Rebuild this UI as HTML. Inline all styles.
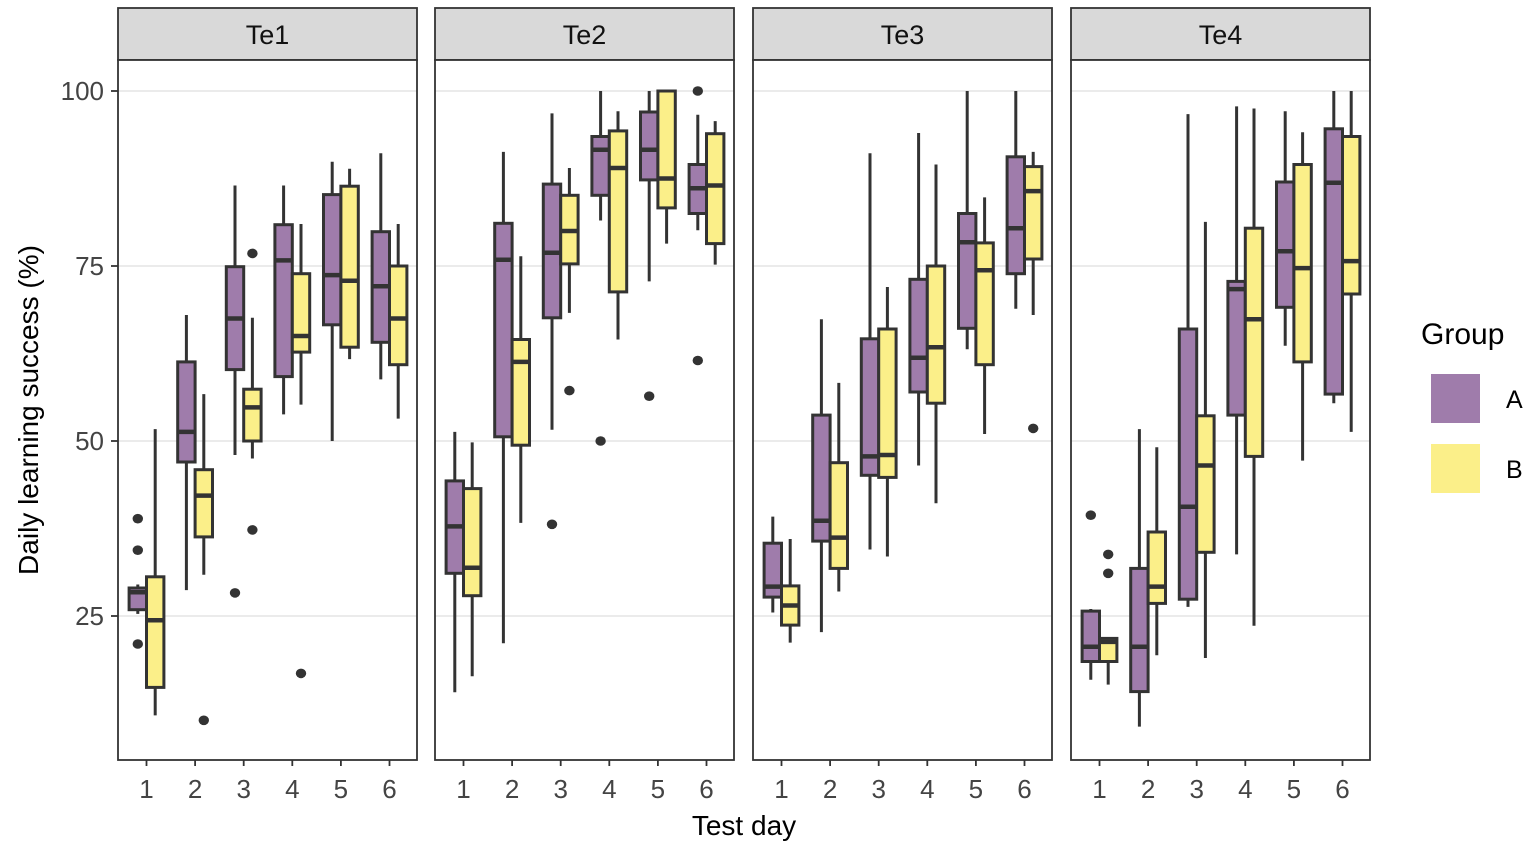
<!DOCTYPE html>
<html><head><meta charset="utf-8"><style>
body{margin:0;background:#fff}
svg text{font-family:"Liberation Sans",Arial,sans-serif}
</style></head><body>
<svg id="chart" width="1535" height="851" xmlns="http://www.w3.org/2000/svg"></svg>
<script>
const panels=["Te1","Te2","Te3","Te4"];
const days=[1,2,3,4,5,6];
const yTicks=[25,50,75,100];
// each box: [lowWhisker, q1, median, q3, highWhisker]
const groupA=[
 [[25.3,25.9,28.4,29.0,29.5],[28.7,47.0,51.3,61.3,68.0],[48.0,60.2,67.5,74.9,86.5],[53.8,59.2,75.8,80.9,86.5],[50.0,66.6,73.7,85.2,89.9],[58.8,64.1,72.1,79.9,91.1]],
 [[14.1,31.1,37.8,44.3,51.3],[21.1,50.6,75.9,81.1,91.3],[51.6,67.6,76.9,86.7,96.8],[81.5,85.1,91.6,93.5,100],[72.8,87.3,91.6,97.0,100],[80.1,82.5,86.1,89.5,96.6]],
 [[25.5,27.7,29.2,35.4,39.2],[22.7,35.7,38.6,53.7,67.4],[34.5,45.1,47.8,64.6,91.1],[46.5,57.0,61.9,73.1,94.0],[63.1,66.1,78.4,82.5,100],[68.9,73.9,80.4,90.6,100]],
 [[15.9,18.5,20.6,25.7,26.0],[9.2,14.2,20.6,31.8,51.7],[26.3,27.4,40.6,66.0,96.7],[33.8,53.7,71.7,72.8,97.8],[63.6,69.1,77.1,87.0,97.1],[55.4,56.7,86.9,94.6,100]]
];
const groupB=[
 [[10.8,14.8,24.4,30.6,51.7],[30.9,36.3,42.2,45.9,56.7],[47.5,50.0,54.8,57.4,67.6],[55.2,62.7,65.0,73.9,81.0],[61.7,63.4,72.9,86.4,88.9],[53.2,60.9,67.5,75.0,81.0]],
 [[16.4,27.9,31.9,43.2,49.8],[38.3,49.4,61.3,64.5,76.4],[68.3,75.3,80.0,85.1,89.0],[64.5,71.3,89.0,94.3,97.1],[78.2,83.3,87.5,100,100],[75.2,78.2,86.5,93.9,95.7]],
 [[21.2,23.7,26.5,29.3,36.0],[28.5,31.8,36.2,46.9,58.3],[33.5,44.8,48.0,66.0,72.0],[41.1,55.4,63.4,75.0,89.5],[51.0,60.9,74.4,78.3,84.8],[68.0,76.0,85.7,89.2,91.3]],
 [[15.2,18.5,21.3,21.8,21.8],[19.4,26.8,29.2,37.0,49.1],[19.0,34.1,46.5,53.6,81.3],[23.6,47.8,67.4,80.4,97.5],[47.2,61.3,74.7,89.5,94.1],[51.3,71.0,75.7,93.5,100]]
];
// outliers: [panelIndex, dayIndex, group(0=A,1=B), value]
const outliers=[
 [0,0,0,38.9],[0,0,0,34.4],[0,0,0,21.0],[0,1,1,10.1],[0,2,0,28.3],[0,2,1,76.8],[0,2,1,37.3],[0,3,1,16.8],
 [1,2,0,38.1],[1,2,1,57.2],[1,3,0,50.0],[1,4,0,56.4],[1,5,0,100],[1,5,0,61.5],
 [2,5,1,51.8],
 [3,0,0,39.4],[3,0,1,33.8],[3,0,1,31.1]
];
const colors=["#9f7cab","#fbef89"];
const NS="http://www.w3.org/2000/svg";
const svg=document.getElementById("chart");
function el(tag,attrs,parent){const e=document.createElementNS(NS,tag);for(const k in attrs)e.setAttribute(k,attrs[k]);(parent||svg).appendChild(e);return e;}
const panelLeft=[118,435,753,1071], panelW=299, plotTop=60, plotBottom=760;
function y(v){return 791-7*v;}
function x(p,d){return panelLeft[p]+28.5+(d-1)*48.6;}
const dodge=8.7, bw=17.4;
panels.forEach((name,p)=>{
  const g=el("g",{});
  
  
  const L=panelLeft[p];
  const strip=el("rect",{x:L,y:8,width:panelW,height:52,fill:"#d9d9d9",stroke:"#333","stroke-width":1.8},g);
  
  
  const st=el("text",{x:L+panelW/2,y:44,"text-anchor":"middle","font-size":27,fill:"#111"},g);
  st.textContent=name;
  
  
  el("rect",{x:L,y:plotTop,width:panelW,height:plotBottom-plotTop,fill:"#fff"},g);
  yTicks.forEach(t=>{
    const gl=el("line",{x1:L,x2:L+panelW,y1:y(t),y2:y(t),stroke:"#ebebeb","stroke-width":2},g);
    
    
  });
  days.forEach((d,i)=>{
    [groupA,groupB].forEach((G,gi)=>{
      const b=G[p][i]; const cx=x(p,d)+(gi?dodge:-dodge);
      const bg=el("g",{},g);
      
      
      el("line",{x1:cx,x2:cx,y1:y(b[4]),y2:y(b[0]),stroke:"#333","stroke-width":3},bg);
      el("rect",{x:cx-bw/2,y:y(b[3]),width:bw,height:Math.max(y(b[1])-y(b[3]),0.5),fill:colors[gi],stroke:"#333","stroke-width":3},bg);
      el("line",{x1:cx-bw/2,x2:cx+bw/2,y1:y(b[2]),y2:y(b[2]),stroke:"#333","stroke-width":4.5},bg);
    });
    const tk=el("line",{x1:x(p,d),x2:x(p,d),y1:plotBottom,y2:plotBottom+6,stroke:"#333","stroke-width":1.8});
    
    
    const tl=el("text",{x:x(p,d),y:798,"text-anchor":"middle","font-size":26,fill:"#444"});
    tl.textContent=d;
    
    
  });
  el("rect",{x:L,y:plotTop,width:panelW,height:plotBottom-plotTop,fill:"none",stroke:"#333","stroke-width":1.8},g);
});
outliers.forEach(o=>{
  const c=el("ellipse",{cx:x(o[0],o[1]+1)+(o[2]?dodge:-dodge),cy:y(o[3]),rx:5.2,ry:4.8,fill:"#333"});
  
  
});
yTicks.forEach(t=>{
  const tk=el("line",{x1:111,x2:118,y1:y(t),y2:y(t),stroke:"#333","stroke-width":1.8});
  
  
  const tl=el("text",{x:104,y:y(t)+9,"text-anchor":"end","font-size":26,fill:"#444"});
  tl.textContent=t;
  
  
});
const xt=el("text",{x:744,y:835,"text-anchor":"middle","font-size":28,fill:"#000"});
xt.textContent="Test day";


const yt=el("text",{x:0,y:0,"text-anchor":"middle","font-size":28,fill:"#000",transform:"translate(38,410) rotate(-90)"});
yt.textContent="Daily learning success (%)";


const lg=el("g",{});


const lt=el("text",{x:1421,y:344,"font-size":30,fill:"#000"},lg);
lt.textContent="Group";


["A","B"].forEach((n,i)=>{
  const ky=374+i*70;
  const r=el("rect",{x:1431,y:ky,width:49,height:49,fill:colors[i]},lg);
  
  
  const t=el("text",{x:1506,y:ky+34,"font-size":25,fill:"#000"},lg);
  t.textContent=n;
  
  
});
</script>
</body></html>
